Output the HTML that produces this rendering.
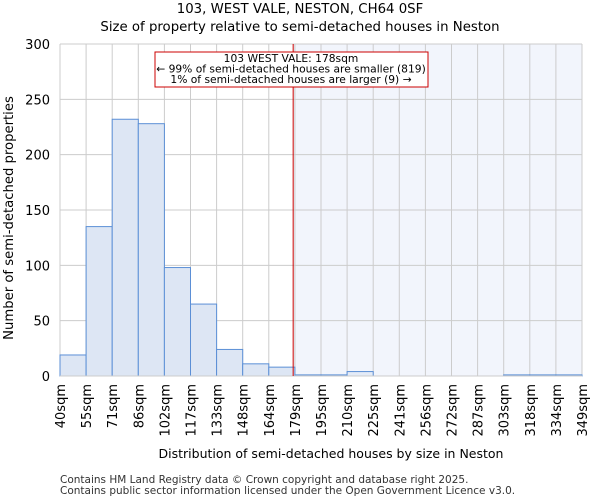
<!DOCTYPE html>
<html><head><meta charset="utf-8"><style>
body{margin:0;background:#fff;font-family:"DejaVu Sans","Liberation Sans",sans-serif;}
</style></head><body>
<svg id="c" width="600" height="500" xmlns="http://www.w3.org/2000/svg" font-family="DejaVu Sans, Liberation Sans, sans-serif">
<text x="300" y="13" text-anchor="middle" font-size="13.3">103, WEST VALE, NESTON, CH64 0SF</text>
<text x="300" y="31" text-anchor="middle" font-size="13.3">Size of property relative to semi-detached houses in Neston</text>
<g id="plot"></g>
<text x="331" y="458" text-anchor="middle" font-size="12.5">Distribution of semi-detached houses by size in Neston</text>
<text transform="translate(13,218) rotate(-90)" text-anchor="middle" font-size="13.2">Number of semi-detached properties</text>
<text x="60" y="483" font-size="10.5" fill="#333">Contains HM Land Registry data © Crown copyright and database right 2025.</text>
<text x="60" y="494" font-size="10.5" fill="#333">Contains public sector information licensed under the Open Government Licence v3.0.</text>
</svg>
<script>
const binLabels=["40sqm","55sqm","71sqm","86sqm","102sqm","117sqm","133sqm","148sqm","164sqm","179sqm","195sqm","210sqm","225sqm","241sqm","256sqm","272sqm","287sqm","303sqm","318sqm","334sqm","349sqm"];
const binEdges=[40,55,71,86,102,117,133,148,164,179,195,210,225,241,256,272,287,303,318,334,349];
const counts=[19,135,232,228,98,65,24,11,8,1,1,4,0,0,0,0,0,1,1,1];
const yTicks=[0,50,100,150,200,250,300];
const propertySize=178;
const NS="http://www.w3.org/2000/svg";
const g=document.getElementById('plot');
const X0=60,X1=582,Y0=376,Y1=44,YMAX=300;
const nb=counts.length,bw=(X1-X0)/nb;
function xIdx(i){return X0+i*bw;}
function xVal(v){let i=0;while(i<nb-1&&v>binEdges[i+1])i++;return xIdx(i)+bw*(v-binEdges[i])/(binEdges[i+1]-binEdges[i]);}
function yScale(v){return Y0-(v/YMAX)*(Y0-Y1);}
function mk(t,a){const e=document.createElementNS(NS,t);for(const k in a)e.setAttribute(k,a[k]);g.appendChild(e);return e;}
const px=xVal(propertySize);
let e=mk('rect',{x:px,y:Y1,width:X1-px,height:Y0-Y1,fill:'#f2f5fc'});


yTicks.forEach(t=>{
 let l=mk('line',{x1:X0,x2:X1,y1:yScale(t),y2:yScale(t),stroke:'#ccc','stroke-width':1});
 
 
 let tx=mk('text',{x:X0-10,y:yScale(t)+5,'text-anchor':'end','font-size':13});
 tx.textContent=t;
 
 
});
binLabels.forEach((b,i)=>{
 let l=mk('line',{x1:xIdx(i),x2:xIdx(i),y1:Y1,y2:Y0,stroke:'#ccc','stroke-width':1});
 
 
 let tx=mk('text',{transform:`translate(${xIdx(i)+5},${Y0+8}) rotate(-90)`,'text-anchor':'end','font-size':13});
 tx.textContent=b;
 
 
});
counts.forEach((c,i)=>{
 if(c<=0)return;
 let r=mk('rect',{x:xIdx(i),y:yScale(c),width:bw,height:Y0-yScale(c),fill:i<9?'#dde6f4':'#e4ebf7',stroke:'#5b8fd6','stroke-width':1});
 
 
});
e=mk('line',{x1:X0,x2:X1,y1:Y0,y2:Y0,stroke:'#ccc','stroke-width':1});


e=mk('line',{x1:px,x2:px,y1:Y1,y2:Y0,stroke:'#cc0000','stroke-width':1});


e=mk('rect',{x:155,y:52,width:273,height:35,fill:'#fff',stroke:'#cc0000','stroke-width':1});


["103 WEST VALE: 178sqm","← 99% of semi-detached houses are smaller (819)","1% of semi-detached houses are larger (9) →"].forEach((s,i)=>{
 let t=mk('text',{x:291,y:62+i*10.5,'text-anchor':'middle','font-size':10.7});
 t.textContent=s;
 
 
});
</script>
</body></html>
